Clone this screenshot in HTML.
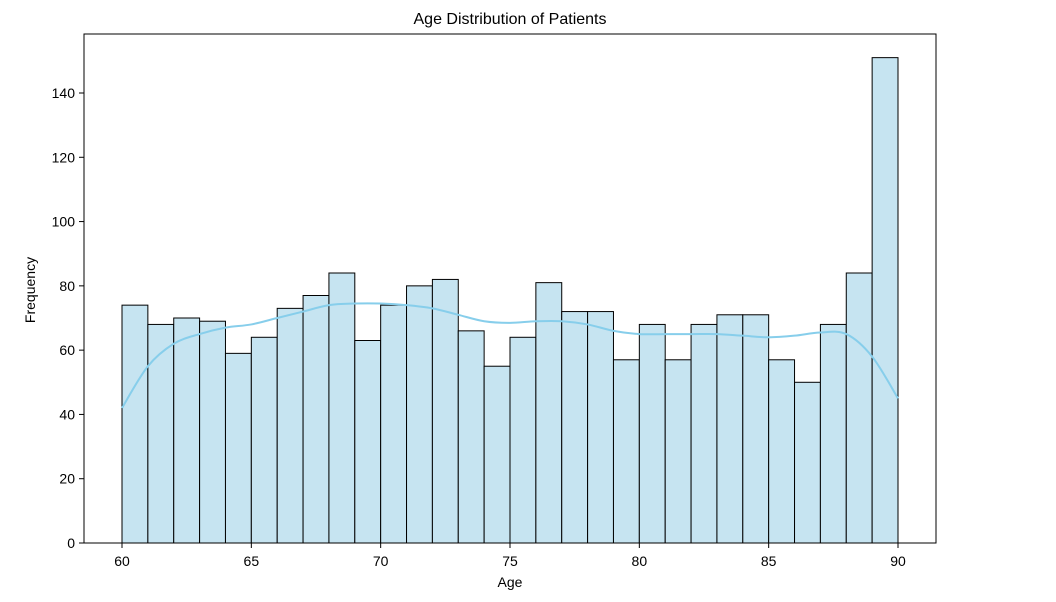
<!DOCTYPE html>
<html><head><meta charset="utf-8"><style>
body{margin:0;background:#fff;font-family:"Liberation Sans",sans-serif;}
svg text{font-family:"Liberation Sans",sans-serif;fill:#000;}
</style></head><body>
<svg id="chart" width="1056" height="597" xmlns="http://www.w3.org/2000/svg">
<text x="510" y="24" font-size="16" text-anchor="middle">Age Distribution of Patients</text>
<g id="bars"></g>
<path id="kde" fill="none" stroke="#87ceeb" stroke-width="2"/>
<rect x="84" y="34" width="852" height="509" fill="none" stroke="#000" stroke-width="1"/>
<g id="xticks"></g>
<g id="yticks"></g>
<text x="510" y="587" font-size="14" text-anchor="middle">Age</text>
<text x="35" y="290" font-size="14" text-anchor="middle" transform="rotate(-90 35 290)">Frequency</text>
</svg>
<script>
const binStart = 60;
const counts = [74,68,70,69,59,64,73,77,84,63,74,80,82,66,55,64,81,72,72,57,68,57,68,71,71,57,50,68,84,151];
const kdeAges = [60,61,62,63,64,65,66,67,68,69,70,71,72,73,74,75,76,77,78,79,80,81,82,83,84,85,86,87,88,89,90];
const kdeVals = [42,55,62,65,67,68,70,72,74,74.5,74.5,74,73,71,69,68.5,69,69,68,66,65,65,65,65,64.5,64,64.5,65.5,65,58,45];
const xTicks = [60,65,70,75,80,85,90];
const yTicks = [0,20,40,60,80,100,120,140];
const NS="http://www.w3.org/2000/svg";
const x = v => 122 + (v-60)*(898-122)/30;
const y = v => 543 - v*(543-93)/140;
const bars=document.getElementById('bars');
counts.forEach((c,i)=>{
  const r=document.createElementNS(NS,'rect');
  
  
  r.setAttribute('x',x(binStart+i));r.setAttribute('width',x(binStart+i+1)-x(binStart+i));
  r.setAttribute('y',y(c));r.setAttribute('height',y(0)-y(c));
  r.setAttribute('fill','#c6e4f1');r.setAttribute('stroke','#000');r.setAttribute('stroke-width','1');
  bars.appendChild(r);
});
// smooth kde via Catmull-Rom
const pts=kdeAges.map((a,i)=>[x(a),y(kdeVals[i])]);
let d='M'+pts[0][0]+','+pts[0][1];
for(let i=0;i<pts.length-1;i++){
  const p0=pts[Math.max(0,i-1)],p1=pts[i],p2=pts[i+1],p3=pts[Math.min(pts.length-1,i+2)];
  d+=' C'+(p1[0]+(p2[0]-p0[0])/6)+','+(p1[1]+(p2[1]-p0[1])/6)+' '+(p2[0]-(p3[0]-p1[0])/6)+','+(p2[1]-(p3[1]-p1[1])/6)+' '+p2[0]+','+p2[1];
}
document.getElementById('kde').setAttribute('d',d);
const xg=document.getElementById('xticks');
xTicks.forEach(t=>{
  const l=document.createElementNS(NS,'line');
  
  
  l.setAttribute('x1',x(t));l.setAttribute('x2',x(t));l.setAttribute('y1',543);l.setAttribute('y2',548);l.setAttribute('stroke','#000');
  xg.appendChild(l);
  const tx=document.createElementNS(NS,'text');
  
  
  tx.setAttribute('x',x(t));tx.setAttribute('y',566);tx.setAttribute('font-size','14');tx.setAttribute('text-anchor','middle');
  tx.textContent=t;xg.appendChild(tx);
});
const yg=document.getElementById('yticks');
yTicks.forEach(t=>{
  const l=document.createElementNS(NS,'line');
  
  
  l.setAttribute('x1',79);l.setAttribute('x2',84);l.setAttribute('y1',y(t));l.setAttribute('y2',y(t));l.setAttribute('stroke','#000');
  yg.appendChild(l);
  const tx=document.createElementNS(NS,'text');
  
  
  tx.setAttribute('x',75);tx.setAttribute('y',y(t)+5);tx.setAttribute('font-size','14');tx.setAttribute('text-anchor','end');
  tx.textContent=t;yg.appendChild(tx);
});
</script>
</body></html>
